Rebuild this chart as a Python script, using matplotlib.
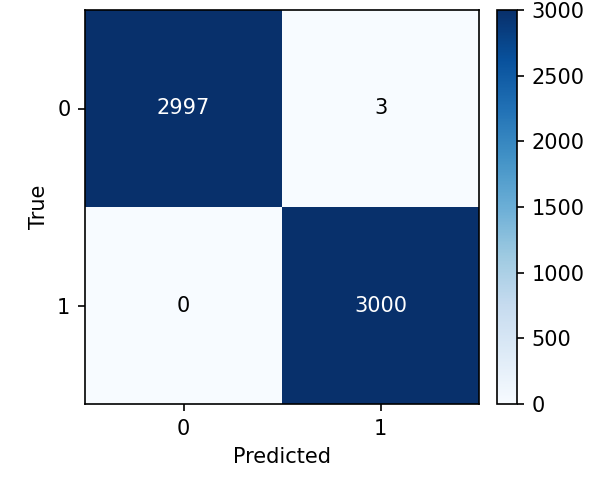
import matplotlib
matplotlib.use("Agg")
import matplotlib.pyplot as plt
import numpy as np

# confusion matrix values
labels = ["0", "1"]
cm = np.array([[2997, 3],
               [0, 3000]])

W, H, DPI = 599, 482, 150
fig = plt.figure(figsize=(W / DPI, H / DPI), dpi=DPI)
ax = fig.add_axes([85 / W, 78 / H, 394 / W, 394 / H])
cax = fig.add_axes([497 / W, 78 / H, 20 / W, 394 / H])

im = ax.imshow(cm, cmap="Blues", vmin=0, vmax=3000, interpolation="nearest", aspect="auto")
cb = fig.colorbar(im, cax=cax)
cb.set_ticks(np.arange(0, 3001, 500))

ax.set_xticks(range(len(labels)))
ax.set_yticks(range(len(labels)))
ax.set_xticklabels(labels)
ax.set_yticklabels(labels)
ax.set_xlabel("Predicted")
ax.set_ylabel("True")

thresh = cm.max() / 2
for i in range(cm.shape[0]):
    for j in range(cm.shape[1]):
        ax.text(j, i, str(cm[i, j]), ha="center", va="center",
                color="white" if cm[i, j] > thresh else "black")

fig.savefig("out.png", dpi=DPI)
